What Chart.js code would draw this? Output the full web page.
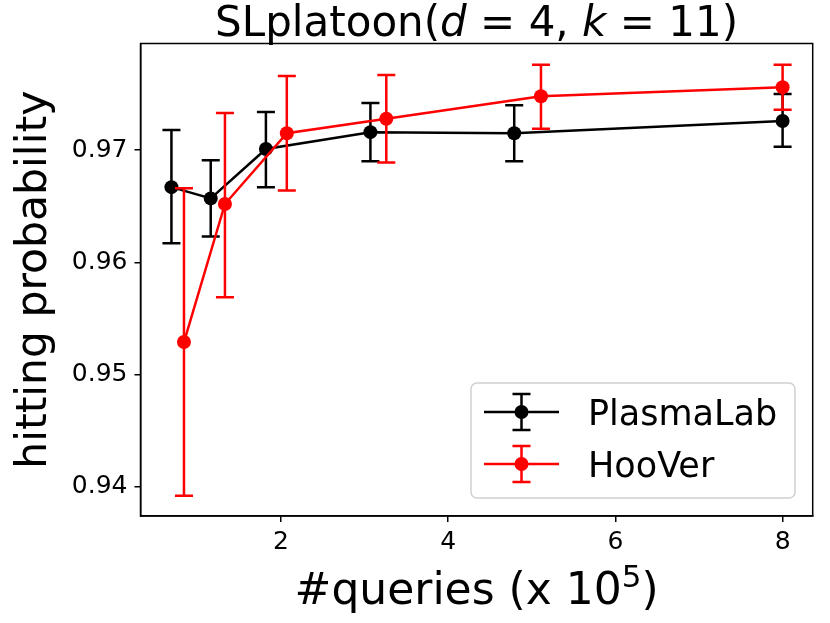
<!DOCTYPE html>
<html>
<head>
<meta charset="utf-8">
<script src="https://cdn.jsdelivr.net/npm/chart.js@4/dist/chart.umd.min.js"></script>
<style>
  html, body { margin: 0; padding: 0; background: #fff; }
  #wrap { width: 830px; height: 623px; }
</style>
</head>
<body>
<div id="wrap"><canvas id="chart" width="830" height="623"></canvas></div>
<script>
// data
const plasmaX  = [0.69, 1.16, 1.82, 3.07, 4.79, 8.0];
const plasmaY  = [0.9667, 0.9657, 0.9701, 0.9716, 0.9715, 0.9726];
const plasmaLo = [0.9617, 0.9623, 0.9667, 0.9690, 0.9690, 0.9703];
const plasmaHi = [0.9718, 0.9691, 0.9734, 0.9742, 0.9740, 0.9750];

const hooverX  = [0.84, 1.33, 2.07, 3.26, 5.11, 8.0];
const hooverY  = [0.9529, 0.9652, 0.9715, 0.9728, 0.9748, 0.9756];
const hooverLo = [0.9392, 0.9569, 0.9664, 0.9689, 0.9719, 0.9736];
const hooverHi = [0.9666, 0.9733, 0.9766, 0.9767, 0.9776, 0.9776];

const xTicks = [2, 4, 6, 8];
const yTicks = [0.94, 0.95, 0.96, 0.97];
const xRange = [0.32, 8.36];
const yRange = [0.9374, 0.9795];

const FONT = "'DejaVu Sans', sans-serif";

function toPoints(xs, ys) {
  return xs.map((x, i) => ({ x: x, y: ys[i] }));
}

// error bars, drawn right before each line so the lines sit on top
const errorBars = {
  id: 'errorBars',
  beforeDatasetDraw(chart, args) {
    const ds = chart.data.datasets[args.index];
    const xs = chart.scales.x, ys = chart.scales.y;
    const ctx = chart.ctx;
    ctx.save();
    ctx.strokeStyle = ds.borderColor;
    ctx.lineWidth = 2.5;
    ds.data.forEach((p, i) => {
      const px = xs.getPixelForValue(p.x);
      const top = ys.getPixelForValue(ds.errHi[i]);
      const bot = ys.getPixelForValue(ds.errLo[i]);
      ctx.beginPath();
      ctx.moveTo(px, top); ctx.lineTo(px, bot);
      ctx.moveTo(px - 9, top); ctx.lineTo(px + 9, top);
      ctx.moveTo(px - 9, bot); ctx.lineTo(px + 9, bot);
      ctx.stroke();
    });
    ctx.restore();
  }
};

function drawParts(ctx, parts, cx, y) {
  let w = 0;
  parts.forEach(p => { ctx.font = p.font; w += ctx.measureText(p.t).width; });
  let x = cx - w / 2;
  parts.forEach(p => {
    ctx.font = p.font;
    ctx.fillText(p.t, x, y + (p.dy || 0));
    x += ctx.measureText(p.t).width;
  });
}

const decorations = {
  id: 'decorations',
  afterDraw(chart) {
    const ctx = chart.ctx;
    const a = chart.chartArea;
    const cx = (a.left + a.right) / 2;
    ctx.save();
    // frame
    ctx.strokeStyle = '#000';
    ctx.lineWidth = 1.5;
    ctx.strokeRect(a.left, a.top, a.right - a.left, a.bottom - a.top);

    ctx.fillStyle = '#000';
    ctx.textBaseline = 'alphabetic';
    ctx.textAlign = 'left';
    // title
    const tf = '42px ' + FONT, ti = 'italic 42px ' + FONT;
    drawParts(ctx, [
      { t: 'SLplatoon(', font: tf }, { t: 'd', font: ti },
      { t: ' = 4, ', font: tf }, { t: 'k', font: ti }, { t: ' = 11)', font: tf }
    ], cx, 36);

    // x label
    const lf = '44px ' + FONT;
    drawParts(ctx, [
      { t: '#queries (x 10', font: lf },
      { t: '5', font: '31px ' + FONT, dy: -17 },
      { t: ')', font: lf }
    ], cx, 604);

    // y label
    ctx.save();
    ctx.translate(46, (a.top + a.bottom) / 2);
    ctx.rotate(-Math.PI / 2);
    ctx.textAlign = 'center';
    ctx.font = '42.5px ' + FONT;
    ctx.fillText('hitting probability', 0, 0);
    ctx.restore();

    // legend
    const bx = 471, by = 383, bw = 324, bh = 115;
    ctx.beginPath();
    ctx.roundRect(bx, by, bw, bh, 6);
    ctx.fillStyle = 'rgba(255,255,255,0.8)';
    ctx.fill();
    ctx.strokeStyle = '#d0d0d0';
    ctx.lineWidth = 1.5;
    ctx.stroke();
    const rows = [412, 464];
    const order = [0, 1];
    order.forEach((di, r) => {
      const ds = chart.data.datasets[di];
      const y = rows[r];
      ctx.strokeStyle = ds.borderColor;
      ctx.lineWidth = 2.5;
      ctx.beginPath();
      ctx.moveTo(484, y); ctx.lineTo(559, y);
      ctx.moveTo(521.5, y - 18); ctx.lineTo(521.5, y + 18);
      ctx.moveTo(512.5, y - 18); ctx.lineTo(530.5, y - 18);
      ctx.moveTo(512.5, y + 18); ctx.lineTo(530.5, y + 18);
      ctx.stroke();
      ctx.fillStyle = ds.borderColor;
      ctx.beginPath();
      ctx.arc(521.5, y, 7, 0, Math.PI * 2);
      ctx.fill();
      ctx.fillStyle = '#000';
      ctx.font = '35px ' + FONT;
      ctx.fillText(ds.label, 588, y + 12.5);
    });
    ctx.restore();
  }
};

new Chart(document.getElementById('chart'), {
  type: 'line',
  data: {
    datasets: [
      {
        label: 'PlasmaLab',
        data: toPoints(plasmaX, plasmaY),
        errLo: plasmaLo, errHi: plasmaHi,
        borderColor: '#000000', backgroundColor: '#000000',
        pointBackgroundColor: '#000000', pointBorderWidth: 0,
        borderWidth: 2.5, pointRadius: 7, tension: 0, order: 2
      },
      {
        label: 'HooVer',
        data: toPoints(hooverX, hooverY),
        errLo: hooverLo, errHi: hooverHi,
        borderColor: '#ff0000', backgroundColor: '#ff0000',
        pointBackgroundColor: '#ff0000', pointBorderWidth: 0,
        borderWidth: 2.5, pointRadius: 7, tension: 0, order: 1
      }
    ]
  },
  options: {
    responsive: false,
    animation: false,
    devicePixelRatio: 1,
    clip: false,
    layout: { padding: { top: 43.5, right: 17.3, left: 0, bottom: 0 } },
    plugins: { legend: { display: false }, title: { display: false }, tooltip: { enabled: false } },
    scales: {
      x: {
        type: 'linear',
        min: xRange[0], max: xRange[1],
        afterFit(s) { s.height = 107; },
        afterBuildTicks(s) { s.ticks = xTicks.map(v => ({ value: v })); },
        grid: { drawOnChartArea: false, drawTicks: true, tickLength: 6, color: '#000', lineWidth: 1.5 },
        border: { display: true, color: '#000', width: 1.5 },
        ticks: { color: '#000', font: { family: FONT, size: 25 }, padding: 5, maxRotation: 0,
                 callback: v => String(v) }
      },
      y: {
        type: 'linear',
        min: yRange[0], max: yRange[1],
        afterFit(s) { s.width = 140.5; },
        afterBuildTicks(s) { s.ticks = yTicks.map(v => ({ value: v })); },
        grid: { drawOnChartArea: false, drawTicks: true, tickLength: 6, color: '#000', lineWidth: 1.5 },
        border: { display: true, color: '#000', width: 1.5 },
        ticks: { color: '#000', font: { family: FONT, size: 25 }, padding: 7,
                 callback: v => v.toFixed(2) }
      }
    }
  },
  plugins: [errorBars, decorations]
});
</script>
</body>
</html>
